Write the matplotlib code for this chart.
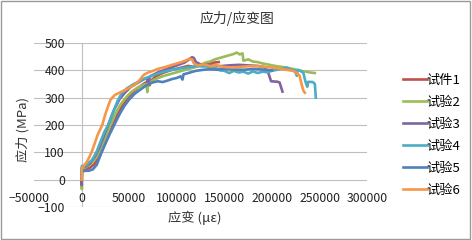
import matplotlib
matplotlib.use("Agg")
import matplotlib.pyplot as plt
import matplotlib.transforms as mtransforms
from matplotlib.patches import Rectangle

plt.rcParams['font.family'] = ['Noto Sans CJK SC', 'DejaVu Sans']

# 试件1
x1 = [0, 300, 2000, 8000, 13000, 18000, 22000, 27000, 33000, 38000, 43000, 48000, 54000,
      60000, 66000, 70000, 71500, 73000, 78000, 85000, 95000, 105000, 112000, 118000,
      125000, 132000, 138000, 144000]
y1 = [0, 42, 38, 42, 55, 80, 110, 150, 200, 240, 272, 298, 320,
      338, 352, 360, 345, 362, 378, 390, 402, 410, 416, 412,
      420, 424, 428, 430]

# 试验2
x2 = [0, 300, 600, 4000, 9000, 14000, 19000, 24000, 29000, 34000, 40000, 46000, 52000,
      58000, 64000, 68000, 69000, 70000, 76000, 85000, 95000, 105000, 112000, 118000,
      125000, 130000, 135000, 140000, 145000, 150000, 155000, 160000, 163000, 166000,
      169000, 170000, 175000, 180000, 185000, 190000, 195000, 200000, 207000, 215000,
      222000, 230000, 236000, 240000, 245000]
y2 = [0, -35, 40, 45, 55, 75, 105, 145, 190, 230, 270, 298, 320,
      335, 345, 350, 320, 352, 365, 378, 388, 398, 405, 410,
      420, 428, 432, 440, 445, 450, 455, 460, 465, 458,
      462, 435, 440, 432, 430, 425, 422, 418, 414, 410,
      405, 398, 395, 392, 390]

# 试验3
x3 = [0, 200, 500, 4000, 9000, 14000, 19000, 24000, 29000, 34000, 40000, 46000, 52000,
      58000, 64000, 68000, 70000, 72000, 80000, 90000, 100000, 108000, 113000, 116000,
      118000, 120000, 125000, 135000, 145000, 155000, 165000, 175000, 185000, 192000,
      196000, 199000, 206000, 208000, 211000]
y3 = [0, -20, 45, 48, 60, 85, 120, 165, 210, 255, 295, 320, 340,
      352, 365, 372, 355, 378, 392, 405, 418, 428, 440, 448,
      445, 430, 422, 418, 415, 418, 420, 418, 416, 412,
      392, 360, 358, 355, 322]

# 试验4
x4 = [0, 300, 3000, 7000, 11000, 15500, 20000, 24000, 28000, 33000, 38000, 42000, 48000,
      55000, 62000, 70000, 80000, 90000, 100000, 110000, 120000, 130000, 140000, 145000,
      150000, 155000, 160000, 165000, 170000, 175000, 180000, 185000, 190000, 195000,
      200000, 205000, 210000, 215000, 220000, 224000, 226000, 227000, 230000, 233000,
      235000, 237000, 238000, 243000, 245000, 246000]
y4 = [0, 50, 48, 60, 72, 100, 140, 175, 200, 245, 290, 315, 335,
      350, 362, 375, 388, 398, 405, 410, 415, 414, 410, 400,
      398, 390, 398, 392, 395, 388, 396, 390, 395, 393,
      398, 402, 405, 410, 402, 400, 380, 402, 398, 390,
      360, 340, 358, 357, 350, 300]

# 试验5
x5 = [0, 300, 3000, 8000, 12000, 16000, 21000, 26000, 30000, 35000, 40000, 45000, 50000,
      56000, 62000, 68000, 74000, 80000, 85000, 90000, 95000, 100000, 104000, 106000,
      107000, 112000, 120000, 128000, 135000, 142000, 150000, 160000, 170000, 180000,
      190000, 200000]
y5 = [0, 30, 32, 33, 38, 55, 100, 140, 170, 205, 240, 270, 293,
      315, 330, 345, 355, 360, 357, 362, 368, 372, 378, 366,
      385, 390, 398, 402, 404, 402, 405, 403, 402, 405,
      403, 400]

# 试验6
x6 = [0, 300, 2000, 5000, 8500, 11000, 14000, 17000, 21700, 25000, 28000, 30500, 35000,
      41000, 48000, 55000, 60000, 64000, 66000, 70000, 75000, 80000, 88000, 95000,
      100000, 105000, 110000, 113000, 116000, 118000, 122000, 128000, 135000, 142000,
      150000, 158000, 165000, 175000, 185000, 195000, 205000, 215000, 222000, 226000,
      229000, 231000, 233000, 234500]
y6 = [0, 40, 50, 62, 85, 105, 135, 165, 200, 240, 270, 293, 310,
      320, 332, 345, 360, 378, 385, 392, 398, 405, 412, 420,
      425, 430, 437, 442, 440, 425, 418, 422, 415, 418,
      412, 410, 412, 415, 415, 412, 408, 402, 398, 390,
      380, 350, 325, 318]

labels = ['试件1', '试验2', '试验3', '试验4', '试验5', '试验6']
colors = ['#C0504D', '#9BBB59', '#8064A2', '#4BACC6', '#4F81BD', '#F79646']
xs = [x1, x2, x3, x4, x5, x6]
ys = [y1, y2, y3, y4, y5, y6]

fig = plt.figure(figsize=(4.72, 2.4), dpi=100)
ax = fig.add_axes([0.072, 0.1375, 0.706, 0.6835])

for x, y, c, lab in zip(xs, ys, colors, labels):
    ax.plot(x, y, color=c, lw=1.9, label=lab)

ax.set_xlim(-50000, 300000)
ax.set_ylim(-100, 500)
ax.set_xticks(range(-50000, 300001, 50000))
ax.set_yticks(range(-100, 501, 100))
ax.grid(axis='y', color='#bfbfbf', lw=0.8)
ax.set_axisbelow(True)
ax.axvline(0, color='#bfbfbf', lw=0.8, zorder=0)

for s in ax.spines.values():
    s.set_visible(False)
ax.spines['bottom'].set_position(('data', 0))
ax.spines['left'].set_position(('data', 0))
ax.tick_params(axis='x', length=0, pad=9, labelsize=8.8, colors='#222222')
ax.tick_params(axis='y', length=0, pad=12, labelsize=8.8, colors='#222222')

# nudge the -50000 label a bit left so it does not run into -100
first = ax.get_xticklabels()[0]
first.set_transform(first.get_transform() +
                    mtransforms.ScaledTranslation(-5 / 100, 0, fig.dpi_scale_trans))

fig.text(237 / 472, 1 - 19 / 240, '应力/应变图', ha='center', va='center',
         fontsize=10, color='#333333')
fig.text(23 / 472, 1 - 130 / 240, '应力 (MPa)', rotation=90, ha='center',
         va='center', fontsize=9.5, color='#333333')
fig.text(195 / 472, 1 - 218 / 240, '应变 (με)', ha='center', va='center',
         fontsize=9.5, color='#333333')

fig.legend(loc='center left', bbox_to_anchor=(403 / 472, 1 - 135.5 / 240), frameon=False,
           fontsize=9.5, handlelength=1.8, handletextpad=0.0, labelspacing=0.68,
           borderpad=0, borderaxespad=0)

fig.patches.append(Rectangle((0.003, 0.005), 0.993, 0.99, transform=fig.transFigure,
                             fill=False, edgecolor='#9a9a9a', lw=1))

fig.savefig('out.png', dpi=100)
